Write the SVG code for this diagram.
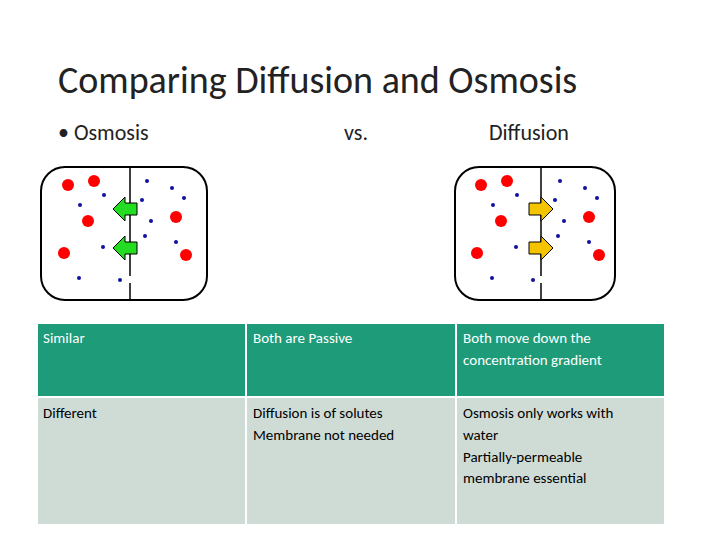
<svg xmlns="http://www.w3.org/2000/svg" width="720" height="540" viewBox="0 0 720 540">
<style>
text{font-family:Calibri,"Liberation Sans",sans-serif}
.t{font-size:15px}
.r{fill:#f00}
.b{fill:#1010a0}
.box{fill:#fff;stroke:#000;stroke-width:2}
.div{stroke:#000;stroke-width:1.5}
</style>
<defs>
<path id="la" d="M0,0 L12,-12 L12,-6 L24,-6 L24,6 L12,6 L12,12 Z"/>
<g id="dots">
<circle class="r" cx="0" cy="0" r="6"/><circle class="r" cx="26" cy="-4" r="6"/><circle class="r" cx="20" cy="36" r="6"/><circle class="r" cx="-4" cy="68" r="6"/><circle class="r" cx="108" cy="32" r="6"/><circle class="r" cx="118" cy="70" r="6"/>
<circle class="b" cx="36" cy="10" r="2"/><circle class="b" cx="12" cy="20" r="2"/><circle class="b" cx="35" cy="62" r="2"/><circle class="b" cx="11" cy="93" r="2"/><circle class="b" cx="52" cy="95" r="2"/><circle class="b" cx="79" cy="-4" r="2"/><circle class="b" cx="104" cy="3" r="2"/><circle class="b" cx="116" cy="13" r="2"/><circle class="b" cx="74" cy="15" r="2"/><circle class="b" cx="83" cy="36" r="2"/><circle class="b" cx="77" cy="51" r="2"/><circle class="b" cx="108" cy="57" r="2"/>
</g>
</defs>
<rect width="720" height="540" fill="#fff"/>
<text x="58" y="93" font-size="38" fill="#222">Comparing Diffusion and Osmosis</text>
<text x="58" y="140" font-size="22" fill="#222">• Osmosis</text>
<text x="344" y="140" font-size="22" fill="#222">vs.</text>
<text x="489" y="140" font-size="22" fill="#222">Diffusion</text>
<g id="osmosis">
<rect class="box" x="41" y="167" width="166" height="133" rx="24"/>
<line class="div" x1="130" y1="167" x2="130" y2="276"/><line class="div" x1="130" y1="283" x2="130" y2="300"/>
<use href="#dots" x="68" y="185"/>
<use href="#la" x="113" y="209" fill="#22dd22" stroke="#000" stroke-width="1"/>
<use href="#la" x="113" y="248" fill="#22dd22" stroke="#000" stroke-width="1"/>
</g>
<g id="diffusion">
<rect class="box" x="455" y="167" width="160" height="133" rx="24"/>
<line class="div" x1="541" y1="167" x2="541" y2="276"/><line class="div" x1="541" y1="283" x2="541" y2="300"/>
<use href="#dots" x="481" y="185"/>
<use href="#la" transform="translate(553,209) scale(-1,1)" fill="#f5c400" stroke="#000" stroke-width="1"/>
<use href="#la" transform="translate(553,248) scale(-1,1)" fill="#f5c400" stroke="#000" stroke-width="1"/>
</g>
<g id="table" stroke="#fff" stroke-width="2">
<rect x="37" y="323" width="209" height="74" fill="#1e9b78"/><rect x="246" y="323" width="210" height="74" fill="#1e9b78"/><rect x="456" y="323" width="209" height="74" fill="#1e9b78"/>
<rect x="37" y="397" width="209" height="128" fill="#cfdcd6"/><rect x="246" y="397" width="210" height="128" fill="#cfdcd6"/><rect x="456" y="397" width="209" height="128" fill="#cfdcd6"/>
</g>
<g class="t" fill="#fff">
<text x="43" y="343">Similar</text>
<text x="253" y="343">Both are Passive</text>
<text x="463" y="343">Both move down the</text>
<text x="463" y="365">concentration gradient</text>
</g>
<g class="t" fill="#000">
<text x="43" y="418">Different</text>
<text x="253" y="418">Diffusion is of solutes</text>
<text x="253" y="440">Membrane not needed</text>
<text x="463" y="418">Osmosis only works with</text>
<text x="463" y="440">water</text>
<text x="463" y="462">Partially-permeable</text>
<text x="463" y="483">membrane essential</text>
</g>
</svg>
